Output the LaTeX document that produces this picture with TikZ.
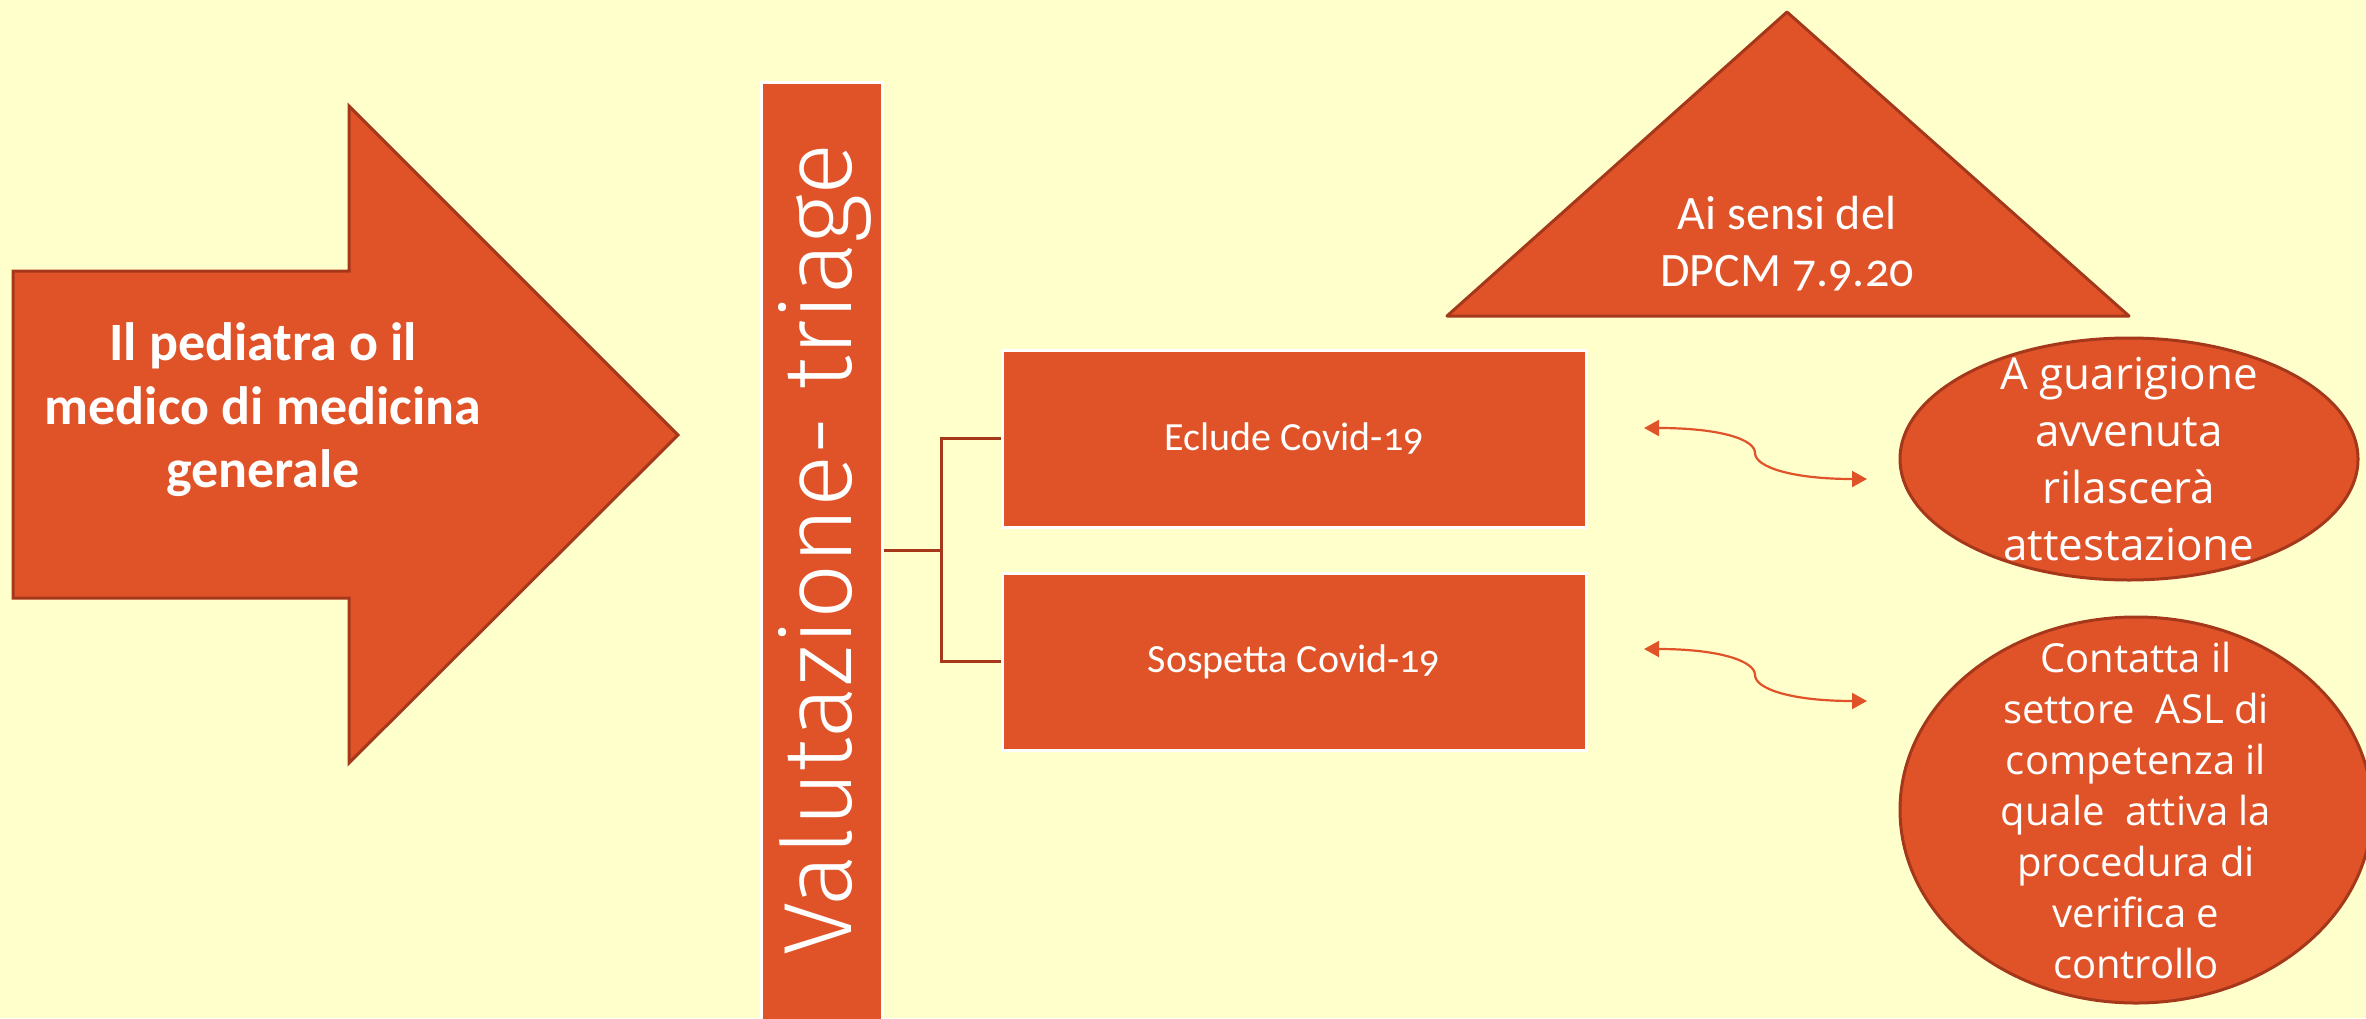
\documentclass[tikz,border=0pt]{standalone}
\usepackage{fontspec}
\setmainfont{Carlito}
\newfontfamily\calibri[Numbers=OldStyle]{Carlito}
\newfontfamily\segoe{Open Sans}
\newfontfamily\segoelight{Fira Sans Light}
\usetikzlibrary{shapes.geometric,arrows.meta,calc}
\definecolor{bgc}{HTML}{FFFFCC}
\definecolor{orng}{HTML}{E05328}
\definecolor{edgec}{HTML}{A5381B}
\begin{document}
\begin{tikzpicture}[x=1pt,y=-1pt,
  shapefill/.style={fill=orng, draw=edgec, line width=3pt, line join=round},
  whitebox/.style={rectangle, fill=orng, draw=white, line width=3pt, inner sep=0pt, text=white},
  bracket/.style={draw=edgec, line width=3pt},
  wavy/.style={draw=orng, line width=2.2pt, {Triangle[length=15pt,width=16pt]}-{Triangle[length=15pt,width=16pt]}},
  ovaltext/.style={text=white, align=center, inner sep=0pt}]
\useasboundingbox (0,0) rectangle (2366,1018);
\fill[bgc] (0,0) rectangle (2366,1018);

% big arrow
\draw[shapefill, line join=miter] (13,271) -- (349,271) -- (349,106) -- (678,435) -- (349,763) -- (349,598) -- (13,598) -- cycle;
\node[text=white, align=center, font=\bfseries\fontsize{54}{63.5}\selectfont] (doc) at (263,410)
  {Il pediatra o il\\medico di medicina\\generale};

% vertical box
\node[whitebox, minimum width=121pt, minimum height=948pt] (vr) at (822,556) {};
\node[rotate=90, anchor=base, text=white, font=\segoelight\fontsize{97}{100}\selectfont] (vt) at (851,549.5) {Valutazione- triage};

% rectangles
\node[whitebox, minimum width=584pt, minimum height=176.5pt, font=\calibri\fontsize{40}{48}\selectfont] (ecl) at (1294,438.75) {Eclude Covid-19};
\node[whitebox, minimum width=584pt, minimum height=176.5pt, font=\calibri\fontsize{40}{48}\selectfont] (sos) at (1294,661.75) {Sospetta Covid-19};

% bracket
\coordinate (split) at (941,550);
\draw[bracket] (vr.east |- split) -- (split) |- (ecl.west);
\draw[bracket] (split) |- (sos.west);

% triangle
\draw[shapefill] (1787,12) -- (2129,316) -- (1447,316) -- cycle;
\node[text=white, align=center, font=\calibri\fontsize{48}{57}\selectfont] (tri) at (1787,243.5) {Ai sensi del\\DPCM 7.9.20};

% ellipses
\draw[shapefill] (2129,459) ellipse [x radius=229, y radius=121];
\node[ovaltext, font=\segoe\fontsize{44}{57}\selectfont] (e1) at (2129,459)
  {A guarigione\\avvenuta\\rilascerà\\attestazione};
\draw[shapefill] (2136,810) ellipse [x radius=236, y radius=193];
\node[ovaltext, font=\segoe\fontsize{40}{51}\selectfont] (e2) at (2136,810)
  {Contatta il\\settore\ \ ASL di\\competenza il\\quale\ \ attiva la\\procedura di\\verifica e\\controllo};

% curved double arrows
\coordinate (a1l) at (1644,428);
\coordinate (a1m) at (1755,453);
\coordinate (a1r) at (1867,479);
\coordinate (a2l) at (1644,649);
\coordinate (a2m) at (1755,675);
\coordinate (a2r) at (1867,701);
\draw[wavy] (a1l) .. controls +(75,0) and +(0,-14) .. (a1m) .. controls +(0,14) and +(-75,0) .. (a1r);
\draw[wavy] (a2l) .. controls +(75,0) and +(0,-14) .. (a2m) .. controls +(0,14) and +(-75,0) .. (a2r);
\end{tikzpicture}
\end{document}
